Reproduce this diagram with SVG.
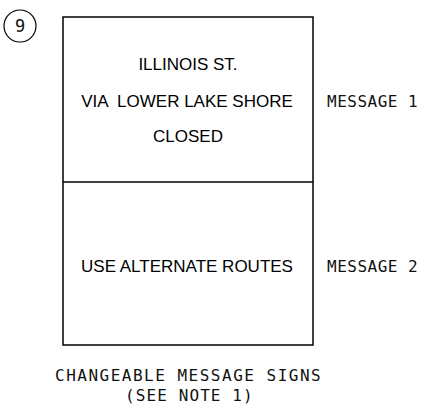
<svg xmlns="http://www.w3.org/2000/svg" width="426" height="413" viewBox="0 0 426 413">
<style>
.ln{fill:none;stroke:#000;stroke-width:1.5}
.sign{font-family:"Liberation Sans",Arial,sans-serif;font-size:17px;fill:#000;text-anchor:middle}
.cad{font-family:"DejaVu Sans Mono",monospace;font-size:16px;fill:#111;letter-spacing:0.5px}
</style>
<rect width="426" height="413" fill="#fff"/>
<g id="tag">
<circle class="ln" cx="20" cy="26" r="16" style="stroke-width:1.2"/>
<text class="cad" x="20" y="32" style="text-anchor:middle;letter-spacing:0;font-size:17px">9</text>
</g>
<g id="sign">
<rect class="ln" x="63" y="17" width="250" height="328"/>
<line class="ln" x1="63" y1="182" x2="313" y2="182"/>
</g>
<g id="message1">
<text class="sign" x="188" y="70">ILLINOIS ST.</text>
<text class="sign" x="187" y="107" xml:space="preserve">VIA  LOWER LAKE SHORE</text>
<text class="sign" x="188" y="142">CLOSED</text>
<text class="cad" x="327" y="107">MESSAGE 1</text>
</g>
<g id="message2">
<text class="sign" x="187" y="272">USE ALTERNATE ROUTES</text>
<text class="cad" x="327" y="272">MESSAGE 2</text>
</g>
<g id="caption">
<text class="cad" x="55" y="381" style="letter-spacing:1.5px">CHANGEABLE MESSAGE SIGNS</text>
<text class="cad" x="125" y="401" style="letter-spacing:1.1px">(SEE NOTE 1)</text>
</g>
</svg>
